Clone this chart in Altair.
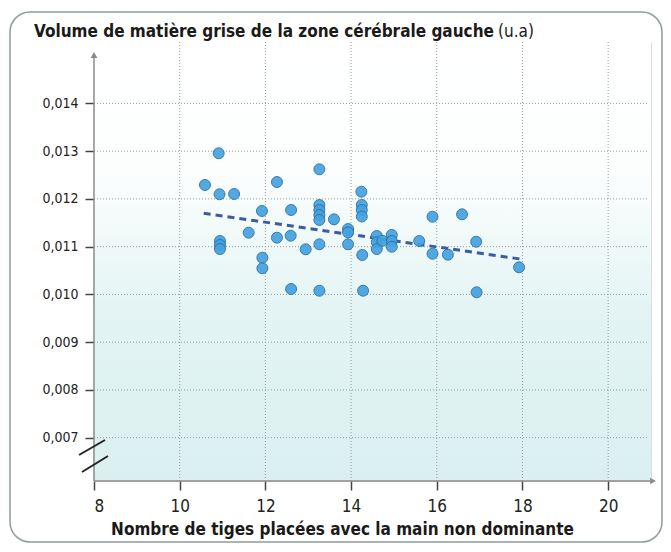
import altair as alt
import pandas as pd

# ---- data ----
tiges = [10.59, 10.91, 10.93, 11.27, 10.94, 10.94, 10.94, 11.61, 11.92, 11.93,
         11.93, 12.27, 12.27, 12.60, 12.59, 12.60, 12.94, 13.26, 13.26, 13.26,
         13.26, 13.26, 13.26, 13.26, 13.60, 13.93, 13.93, 13.93, 14.24, 14.25,
         14.25, 14.25, 14.26, 14.28, 14.60, 14.60, 14.60, 14.73, 14.95, 14.95,
         14.95, 15.59, 15.90, 15.90, 16.26, 16.59, 16.92, 16.93, 17.92]
volume = [0.012292, 0.012956, 0.012097, 0.012103, 0.011119, 0.011035, 0.010951,
          0.011293, 0.011747, 0.010769, 0.010547, 0.012354, 0.011188, 0.011768,
          0.011230, 0.010114, 0.010945, 0.012620, 0.011873, 0.011768, 0.011663,
          0.011559, 0.011050, 0.010078, 0.011573, 0.011370, 0.011301, 0.011050,
          0.012151, 0.011873, 0.011768, 0.011632, 0.010826, 0.010078, 0.011224,
          0.011092, 0.010951, 0.011125, 0.011245, 0.011119, 0.010999, 0.011119,
          0.011628, 0.010853, 0.010832, 0.011678, 0.011104, 0.010045, 0.010568]
trend_x = [10.56, 17.95]
trend_y = [0.011699, 0.010742]
x_ticks = [8, 10, 12, 14, 16, 18, 20]
y_ticks = [0.007, 0.008, 0.009, 0.010, 0.011, 0.012, 0.013, 0.014]

title_main = "Volume de matière grise de la zone cérébrale gauche"
title_unit = "(u.a)"
x_title = "Nombre de tiges placées avec la main non dominante"

FONT = "DejaVu Sans Condensed"
W, H = 557, 439

pts = pd.DataFrame({"x": tiges, "y": volume})
trend = pd.DataFrame({"x": trend_x, "y": trend_y})
xt = pd.DataFrame({"x": x_ticks[1:]})
yt = pd.DataFrame({"y": y_ticks})
one = alt.Data(values=[{"a": 1}])

xs = alt.Scale(domain=[8, 21], nice=False, zero=False)
ys = alt.Scale(domain=[0.006093, 0.015286], nice=False, zero=False)

gradient = alt.LinearGradient(
    gradient="linear", x1=0, x2=0, y1=0, y2=1,
    stops=[alt.GradientStop(color="#ffffff", offset=0),
           alt.GradientStop(color="#fcfefe", offset=0.3),
           alt.GradientStop(color="#e4f4f4", offset=0.6),
           alt.GradientStop(color="#daf0f0", offset=1)])

card = alt.Chart(one).mark_rect(
    fillOpacity=0, stroke="#8f9c9c", strokeWidth=1.5, cornerRadius=20
).encode(x=alt.value(-84), x2=alt.value(568), y=alt.value(-30), y2=alt.value(500))

bg = alt.Chart(one).mark_rect(color=gradient).encode(
    x=alt.value(0), x2=alt.value(W), y=alt.value(0), y2=alt.value(H))

vgrid = alt.Chart(xt).mark_rule(color="#9a9a9a", strokeDash=[1, 2], strokeWidth=1).encode(
    x=alt.X("x:Q", scale=xs), y=alt.value(0), y2=alt.value(H))
hgrid = alt.Chart(yt).mark_rule(color="#9a9a9a", strokeDash=[1, 2], strokeWidth=1).encode(
    y=alt.Y("y:Q", scale=ys), x=alt.value(0), x2=alt.value(W - 2))

line = alt.Chart(trend).mark_line(color="#3b5c9e", strokeWidth=3, strokeDash=[7, 5]).encode(
    x=alt.X("x:Q", scale=xs), y=alt.Y("y:Q", scale=ys))

points = alt.Chart(pts).mark_circle(
    size=120, color="#45a2df", opacity=0.92, stroke="#2a70a8", strokeWidth=1
).encode(
    x=alt.X("x:Q", scale=xs, axis=alt.Axis(
        values=x_ticks, title=x_title, grid=False, domain=False,
        tickSize=9, tickWidth=1.5, tickColor="#444444",
        labelFont=FONT, labelFontSize=17, labelColor="#222222", labelPadding=8,
        titleFont=FONT, titleFontSize=17, titleFontWeight="bold", titleColor="#1a1a1a",
        titlePadding=7, titleX=248, titleAlign="center")),
    y=alt.Y("y:Q", scale=ys, axis=alt.Axis(
        values=y_ticks, title=None, grid=False, domain=False,
        tickSize=9, tickWidth=1.5, tickColor="#444444",
        labelExpr="replace(format(datum.value, '.3f'), '.', ',')",
        labelFont=FONT, labelFontSize=14, labelColor="#222222", labelPadding=7)),
)

# axis lines with arrows, axis break
yaxis_line = alt.Chart(one).mark_rule(color="#8a8a8a", strokeWidth=1.5).encode(
    x=alt.value(0), y=alt.value(H), y2=alt.value(14))
xaxis_line = alt.Chart(one).mark_rule(color="#8a8a8a", strokeWidth=1.5).encode(
    x=alt.value(0), x2=alt.value(556), y=alt.value(H))
yarrow = alt.Chart(one).mark_point(shape="triangle-up", filled=True, color="#8a8a8a", size=45, opacity=1).encode(
    x=alt.value(0), y=alt.value(13))
xarrow = alt.Chart(one).mark_point(shape="triangle-right", filled=True, color="#8a8a8a", size=45, opacity=1).encode(
    x=alt.value(559), y=alt.value(H))
brk1 = alt.Chart(one).mark_rule(color="#222222", strokeWidth=2).encode(
    x=alt.value(-15), x2=alt.value(11), y=alt.value(413), y2=alt.value(398))
brk2 = alt.Chart(one).mark_rule(color="#222222", strokeWidth=2).encode(
    x=alt.value(-12), x2=alt.value(14), y=alt.value(430), y2=alt.value(414))

t1 = alt.Chart(one).mark_text(align="left", baseline="alphabetic", font=FONT, fontSize=17,
                              fontWeight="bold", color="#1a1a1a").encode(
    x=alt.value(-60), y=alt.value(-5), text=alt.value(title_main))
t2 = alt.Chart(one).mark_text(align="left", baseline="alphabetic", font=FONT, fontSize=17,
                              color="#1a1a1a").encode(
    x=alt.value(404), y=alt.value(-5), text=alt.value(title_unit))

chart = alt.layer(
    card, bg, vgrid, hgrid, line, points,
    yaxis_line, xaxis_line, yarrow, xarrow, brk1, brk2, t1, t2
).properties(
    width=W, height=H,
    autosize=alt.AutoSizeParams(type="none"),
    padding={"left": 86, "top": 34, "right": 12, "bottom": 63},
).configure_view(stroke=None).configure(background="white")

chart.save("out.html", embed_options={"renderer": "svg", "actions": False})
